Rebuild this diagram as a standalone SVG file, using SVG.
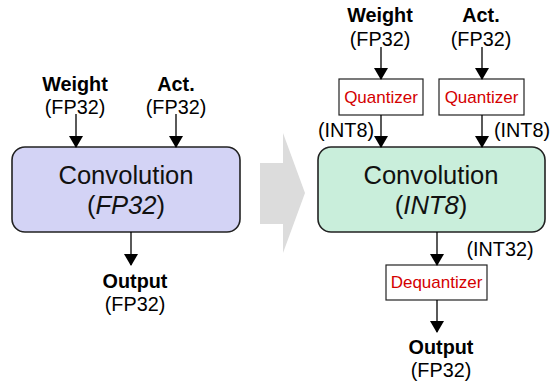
<svg xmlns="http://www.w3.org/2000/svg" width="554" height="388" viewBox="0 0 554 388">
<style>
.lbl{font-family:"Liberation Sans",Arial,sans-serif;font-size:19.8px;fill:#000;text-anchor:middle}
.b{font-weight:bold}
.big{font-family:"Liberation Sans",Arial,sans-serif;font-size:25.6px;fill:#111;text-anchor:middle}
.q{font-family:"Liberation Sans",Arial,sans-serif;font-size:17px;fill:#d40000;text-anchor:middle}
.conv{stroke:#222;stroke-width:1.6}
.qbox{fill:#fff;stroke:#222;stroke-width:1.2}
.edge{stroke:#000;stroke-width:1.3;fill:none;marker-end:url(#ah)}
</style>
<defs>
<marker id="ah" markerWidth="12" markerHeight="14" refX="11" refY="7" orient="auto" markerUnits="userSpaceOnUse" viewBox="0 0 12 14">
<path d="M0,0 L12,7 L0,14 z" fill="#000"/>
</marker>
</defs>
<rect width="554" height="388" fill="#fff"/>
<polygon id="bigarrow" points="260,163 283,163 283,133 305,193 283,253 283,224 260,224" fill="#dcdcdc"/>
<g id="left-weight">
<text class="lbl b" x="75" y="91">Weight</text>
<text class="lbl" x="75" y="114">(FP32)</text>
</g>
<g id="left-act">
<text class="lbl b" x="176" y="91">Act.</text>
<text class="lbl" x="176" y="114">(FP32)</text>
</g>
<g id="left-conv">
<rect class="conv" x="12" y="147" width="228" height="85" rx="13" fill="#d3d3f5"/>
<text class="big" x="126" y="184">Convolution</text>
<text class="big" x="126" y="214">(<tspan font-style="italic">FP32</tspan>)</text>
</g>
<g id="left-output">
<text class="lbl b" x="135" y="288">Output</text>
<text class="lbl" x="135" y="311">(FP32)</text>
</g>
<g id="right-weight">
<text class="lbl b" x="380" y="22">Weight</text>
<text class="lbl" x="380" y="46">(FP32)</text>
</g>
<g id="right-act">
<text class="lbl b" x="481" y="22">Act.</text>
<text class="lbl" x="481" y="46">(FP32)</text>
</g>
<g id="quant1">
<rect class="qbox" x="339" y="79" width="84" height="36"/>
<text class="q" x="381" y="103">Quantizer</text>
</g>
<g id="quant2">
<rect class="qbox" x="439" y="79" width="85" height="36"/>
<text class="q" x="481.5" y="103">Quantizer</text>
</g>
<g id="right-conv">
<rect class="conv" x="318" y="147" width="227" height="85" rx="13" fill="#c9eedb"/>
<text class="big" x="431" y="184">Convolution</text>
<text class="big" x="431" y="214">(<tspan font-style="italic">INT8</tspan>)</text>
</g>
<g id="dequant">
<rect class="qbox" x="386" y="265" width="101" height="35"/>
<text class="q" x="436.5" y="288">Dequantizer</text>
</g>
<g id="right-output">
<text class="lbl b" x="441" y="354">Output</text>
<text class="lbl" x="441" y="377">(FP32)</text>
</g>
<g id="connectors">
<line class="edge" x1="76" y1="114" x2="76" y2="147"/>
<line class="edge" x1="176" y1="114" x2="176" y2="147"/>
<line class="edge" x1="131" y1="232" x2="131" y2="265"/>
<line class="edge" x1="381" y1="47" x2="381" y2="79"/>
<line class="edge" x1="482" y1="47" x2="482" y2="79"/>
<line class="edge" x1="381" y1="115" x2="381" y2="147"/>
<line class="edge" x1="482" y1="115" x2="482" y2="147"/>
<line class="edge" x1="437" y1="232" x2="437" y2="265"/>
<line class="edge" x1="437" y1="300" x2="437" y2="332"/>
<text class="lbl" x="346" y="137">(INT8)</text>
<text class="lbl" x="522" y="137">(INT8)</text>
<text class="lbl" x="500" y="256">(INT32)</text>
</g>
</svg>
